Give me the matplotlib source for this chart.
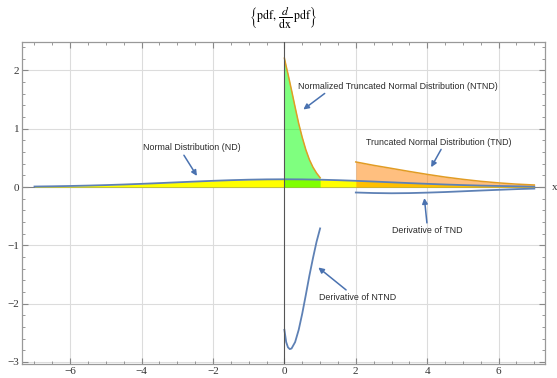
import matplotlib.pyplot as plt
from matplotlib.ticker import MultipleLocator

plt.rcParams['mathtext.fontset'] = 'stix'

# normal distribution (ND)
nd_x = [-7, -6.5, -6, -5.5, -5, -4.5, -4, -3.5, -3, -2.5, -2, -1.5, -1, -0.5, 0,
        0.5, 1, 1.5, 2, 2.5, 3, 3.5, 4, 4.5, 5, 5.5, 6, 6.5, 7]
nd_y = [0.0087, 0.0127, 0.0180, 0.0248, 0.0332, 0.0432, 0.0547, 0.0673, 0.0807,
        0.0940, 0.1065, 0.1174, 0.1258, 0.1312, 0.1330, 0.1312, 0.1258, 0.1174,
        0.1065, 0.0940, 0.0807, 0.0673, 0.0547, 0.0432, 0.0332, 0.0248, 0.0180,
        0.0127, 0.0087]

# normalized truncated normal (NTND) on [0,1] and its derivative
ntnd_x = [0, 0.05, 0.1, 0.15, 0.2, 0.3, 0.4, 0.5, 0.6, 0.7, 0.8, 0.9, 1.0]
ntnd_y = [2.21, 2.07, 1.94, 1.80, 1.66, 1.37, 1.09, 0.85, 0.64, 0.47, 0.34, 0.24, 0.16]
dntnd_y = [-2.45, -2.66, -2.75, -2.78, -2.77, -2.66, -2.45, -2.17, -1.85, -1.52,
           -1.22, -0.94, -0.71]

# truncated normal (TND) on [2,7] and its derivative
tnd_x = [2, 2.5, 3, 3.5, 4, 4.5, 5, 5.5, 6, 6.5, 7]
tnd_y = [0.430, 0.372, 0.320, 0.267, 0.217, 0.171, 0.132, 0.098, 0.071, 0.050, 0.035]
dtnd_y = [-0.094, -0.103, -0.107, -0.104, -0.096, -0.086, -0.073, -0.060, -0.048,
          -0.036, -0.027]

blue = '#5E81B5'
orange = '#E19C24'
arrow_c = '#4A72B0'
txt_c = '#2a2a2a'

fig = plt.figure(figsize=(5.57, 3.78), dpi=100)
ax = fig.add_axes([0.0395, 0.037, 0.939, 0.851])

# fills
ax.fill_between(nd_x, 0, nd_y, color='#FFFF00', lw=0, zorder=2)
ax.fill_between(ntnd_x, 0, ntnd_y, color='#00FF00', alpha=0.5, lw=0, zorder=3)
ax.fill_between(tnd_x, 0, tnd_y, color='#FF8000', alpha=0.5, lw=0, zorder=3)

# curves
ax.plot(nd_x, nd_y, color=blue, lw=1.3, zorder=5)
ax.plot(ntnd_x, ntnd_y, color=orange, lw=1.1, zorder=5)
ax.plot(ntnd_x, dntnd_y, color=blue, lw=1.3, zorder=5)
ax.plot(tnd_x, tnd_y, color=orange, lw=1.1, zorder=5)
ax.plot(tnd_x, dtnd_y, color=blue, lw=1.3, zorder=5)

ax.set_xlim(-7.35, 7.30)
ax.set_ylim(-3.036, 2.482)

# grid and axes through origin
for gx in [-6, -4, -2, 2, 4, 6]:
    ax.axvline(gx, color='#dcdcdc', lw=0.8, zorder=0)
for gy in [-3, -2, -1, 1, 2]:
    ax.axhline(gy, color='#dcdcdc', lw=0.8, zorder=0)
ax.axhline(0, color='#808080', lw=0.8, zorder=1)
ax.axvline(0, color='#555555', lw=0.8, zorder=6)

ax.xaxis.set_major_locator(MultipleLocator(2))
ax.xaxis.set_minor_locator(MultipleLocator(0.5))
ax.yaxis.set_major_locator(MultipleLocator(1))
ax.yaxis.set_minor_locator(MultipleLocator(0.2))
ax.tick_params(which='both', direction='in', top=True, right=True,
               color='#888888', labelsize=8, labelcolor='#333333', pad=2)
ax.tick_params(which='major', length=4, width=0.8)
ax.tick_params(which='minor', length=2, width=0.6)
ax.set_xticklabels([f'{v:g}'.replace('-', '\u2212') for v in ax.get_xticks()])
ax.set_yticklabels([f'{v:g}'.replace('-', '\u2212') for v in ax.get_yticks()])
for lab in ax.get_xticklabels() + ax.get_yticklabels():
    lab.set_family('Liberation Serif')
for s in ax.spines.values():
    s.set_color('#999999')
    s.set_linewidth(0.9)

ax.text(7.58, 0, 'x', fontsize=8, family='Liberation Serif', color='#333333',
        va='center', ha='center', clip_on=False)

fig.text(0.509, 0.952, r'$\left\{\mathrm{pdf},\,\dfrac{d}{\mathrm{dx}}\,\mathrm{pdf}\right\}$',
         ha='center', va='center', fontsize=8.5)

# annotations
fs = 6.4
ap = dict(arrowstyle='-|>', color=arrow_c, lw=1.1, mutation_scale=8, shrinkA=0, shrinkB=0)
ax.annotate('Normal Distribution (ND)', xy=(-2.45, 0.19), xytext=(-2.59, 0.67),
            ha='center', va='center', fontsize=fs, family='Liberation Sans', color=txt_c,
            arrowprops=dict(ap, relpos=(0.4, 0.0)), zorder=7)
ax.annotate('Normalized Truncated Normal Distribution (NTND)', xy=(0.53, 1.33),
            xytext=(3.19, 1.73), ha='center', va='center', fontsize=fs,
            family='Liberation Sans', color=txt_c,
            arrowprops=dict(ap, relpos=(0.15, 0.0)), zorder=7)
ax.annotate('Truncated Normal Distribution (TND)', xy=(4.11, 0.34), xytext=(4.31, 0.77),
            ha='center', va='center', fontsize=fs, family='Liberation Sans', color=txt_c,
            arrowprops=dict(ap, relpos=(0.53, 0.0)), zorder=7)
ax.annotate('Derivative of TND', xy=(3.92, -0.19), xytext=(4.0, -0.74),
            ha='center', va='center', fontsize=fs, family='Liberation Sans', color=txt_c,
            arrowprops=dict(ap, relpos=(0.5, 1.0)), zorder=7)
ax.annotate('Derivative of NTND', xy=(0.95, -1.38), xytext=(2.04, -1.89),
            ha='center', va='center', fontsize=fs, family='Liberation Sans', color=txt_c,
            arrowprops=dict(ap, relpos=(0.4, 1.0)), zorder=7)

fig.savefig('out.png', dpi=100)
